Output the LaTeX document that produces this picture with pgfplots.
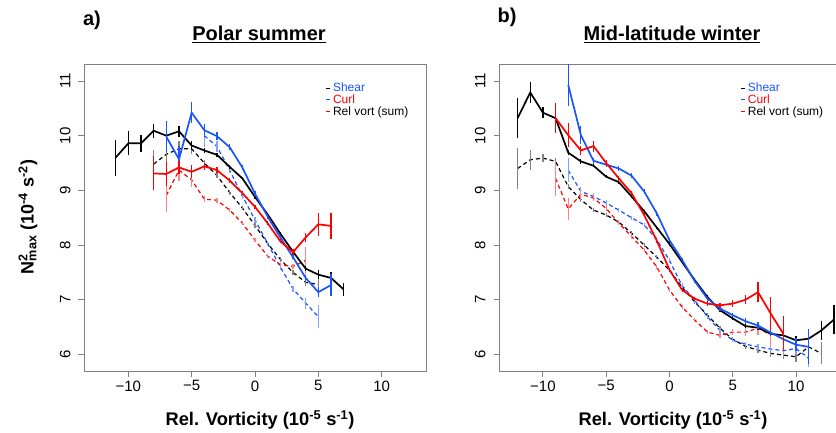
\documentclass[border=0pt]{standalone}
\usepackage{pgfplots}
\pgfplotsset{compat=1.18}
\usepackage{fontspec}
\setmainfont{Liberation Sans}

\definecolor{rblue}{RGB}{25,85,255}
\definecolor{rred}{RGB}{255,0,0}
\definecolor{lblue}{RGB}{130,160,255}
\definecolor{lred}{RGB}{255,130,130}
\definecolor{lgray}{RGB}{130,130,130}
\definecolor{boxgray}{RGB}{128,128,128}

\pgfplotsset{
  rbase/.style={
    scale only axis, width=342pt, height=307.5pt,
    ymin=5.69, ymax=11.31,
    xtick={-10,-5,0,5,10}, xticklabels={−10,−5,0,5,10},
    ytick={6,7,8,9,10,11}, yticklabels={6,7,8,9,10,11},
    tick pos=left, tick align=outside, major tick length=5.5pt,
    axis line style={boxgray, line width=0.9pt},
    tick style={boxgray, line width=0.9pt},
    ticklabel style={font=\fontsize{15}{15}\selectfont, black},
    yticklabel style={rotate=90, anchor=south},
    yticklabel shift=4.5pt,
    xticklabel style={anchor=north},
    legend image code/.code={\draw[#1] (0pt,0pt) -- (4.5pt,0pt);},
    legend style={draw=none, fill=none, anchor=north west,
      font=\fontsize{12}{13}\selectfont, row sep=-2.5pt,
      cells={anchor=west}, inner sep=0pt},
  },
  sol/.style={color=#1, line width=1.7pt, solid,
    error bars/y dir=both, error bars/y explicit, error bars/error mark=none,
    error bars/error bar style={color=#1, line width=1.2pt, solid}},
  dsh/.style 2 args={color=#1, line width=1.2pt, dash pattern=on 4pt off 3pt,
    error bars/y dir=both, error bars/y explicit, error bars/error mark=none,
    error bars/error bar style={color=#2, line width=1.2pt, solid}},
}

\begin{document}
\begin{tikzpicture}[x=1pt,y=1pt]
\path[use as bounding box] (0,0) rectangle (836,433);

% ---- a) Polar summer
\begin{axis}[rbase, at={(84pt,61.5pt)}, anchor=south west,
  xmin=-13.5, xmax=13.5,
  legend style={at={(rel axis cs:0.705,0.945)}}]
% dashed
\addplot[dsh={black}{lgray}] table[x=x,y=y,y error=e] {
x y e
-8 9.48 0.25
-7 9.66 0.20
-6 9.76 0.15
-5 9.76 0.10
-4 9.50 0.06
-3 9.27 0.05
-2 8.96 0.04
-1 8.68 0.04
0 8.36 0.04
1 8.03 0.04
2 7.74 0.04
3 7.50 0.05
4 7.32 0.06
5 7.28 0.10
};
\addplot[dsh={rblue}{lblue}] table[x=x,y=y,y error=e] {
x y e
-4 10.00 0.20
-3 9.80 0.10
-2 9.37 0.06
-1 8.90 0.05
0 8.46 0.05
1 8.03 0.05
2 7.60 0.05
3 7.20 0.06
4 6.94 0.10
5 6.69 0.21
};
\addplot[dsh={rred}{lred}] table[x=x,y=y,y error=e] {
x y e
-7 8.91 0.30
-6 9.37 0.20
-5 9.19 0.12
-4 8.84 0.06
-3 8.82 0.05
-2 8.64 0.04
-1 8.40 0.04
0 8.09 0.04
1 7.80 0.04
2 7.64 0.04
3 7.61 0.05
4 7.72 0.25
};
% solid
\addplot[sol=black] table[x=x,y=y,y error=e] {
x y e
-11 9.60 0.33
-10 9.86 0.22
-9 9.86 0.16
-8 10.09 0.13
-7 10.00 0.10
-6 10.08 0.10
-5 9.82 0.08
-4 9.73 0.05
-3 9.65 0.04
-2 9.43 0.03
-1 9.22 0.03
0 8.88 0.03
1 8.56 0.03
2 8.21 0.03
3 7.88 0.03
4 7.57 0.04
5 7.46 0.08
6 7.40 0.10
7 7.19 0.12
};
\addplot[sol=rblue] table[x=x,y=y,y error=e] {
x y e
-7 9.98 0.28
-6 9.57 0.25
-5 10.42 0.19
-4 10.10 0.12
-3 9.99 0.07
-2 9.79 0.05
-1 9.42 0.04
0 8.94 0.04
1 8.52 0.04
2 8.14 0.04
3 7.78 0.04
4 7.40 0.06
5 7.14 0.09
6 7.27 0.20
};
\addplot[sol=rred] table[x=x,y=y,y error=e] {
x y e
-8 9.31 0.31
-7 9.30 0.22
-6 9.42 0.12
-5 9.34 0.12
-4 9.44 0.06
-3 9.37 0.05
-2 9.18 0.04
-1 8.95 0.04
0 8.70 0.04
1 8.40 0.04
2 8.07 0.04
3 7.87 0.05
4 8.14 0.08
5 8.38 0.21
6 8.35 0.23
};
\addlegendimage{rblue, line width=1pt}
\addlegendentry{\textcolor{rblue}{Shear}}
\addlegendimage{rred, line width=1pt}
\addlegendentry{\textcolor{rred}{Curl}}
\addlegendimage{black, line width=1pt}
\addlegendentry{Rel vort (sum)}
\end{axis}

% ---- b) Mid-latitude winter
\begin{axis}[rbase, at={(499pt,61.5pt)}, anchor=south west,
  width=337pt, xmin=-13.47, xmax=13.16,
  legend style={at={(rel axis cs:0.715,0.945)}}]
% dashed
\addplot[dsh={black}{lgray}] table[x=x,y=y,y error=e] {
x y e
-12 9.40 0.38
-11 9.56 0.18
-10 9.59 0.08
-9 9.53 0.06
-8 9.07 0.05
-7 8.83 0.05
-6 8.64 0.04
-5 8.55 0.04
-4 8.42 0.04
-3 8.22 0.04
-2 8.00 0.04
-1 7.78 0.04
0 7.54 0.04
1 7.23 0.04
2 6.96 0.04
3 6.72 0.04
4 6.48 0.04
5 6.28 0.04
6 6.15 0.05
7 6.08 0.06
8 6.02 0.07
9 5.99 0.08
10 5.96 0.10
11 6.14 0.20
12 6.02 0.20
};
\addplot[dsh={rblue}{lblue}] table[x=x,y=y,y error=e] {
x y e
-8 9.37 0.22
-7 8.98 0.08
-6 8.89 0.06
-5 8.77 0.05
-4 8.64 0.04
-3 8.50 0.04
-2 8.37 0.04
-1 8.10 0.04
0 7.72 0.04
1 7.26 0.04
2 6.99 0.04
3 6.69 0.04
4 6.44 0.04
5 6.26 0.04
6 6.19 0.04
7 6.14 0.05
8 6.10 0.06
9 6.07 0.07
10 6.11 0.10
11 5.93 0.15
};
\addplot[dsh={rred}{lred}] table[x=x,y=y,y error=e] {
x y e
-9 9.22 0.32
-8 8.66 0.20
-7 8.93 0.08
-6 8.86 0.06
-5 8.67 0.05
-4 8.40 0.04
-3 8.16 0.04
-2 7.91 0.04
-1 7.60 0.04
0 7.18 0.04
1 6.87 0.04
2 6.63 0.04
3 6.41 0.04
4 6.35 0.05
5 6.41 0.06
6 6.41 0.07
7 6.48 0.12
8 6.36 0.20
};
% solid
\addplot[sol=black] table[x=x,y=y,y error=e] {
x y e
-12 10.32 0.37
-11 10.79 0.19
-10 10.42 0.10
-9 10.32 0.06
-8 9.69 0.05
-7 9.53 0.04
-6 9.45 0.03
-5 9.25 0.03
-4 9.15 0.03
-3 8.89 0.03
-2 8.62 0.03
-1 8.32 0.03
0 8.02 0.03
1 7.69 0.03
2 7.36 0.03
3 7.05 0.03
4 6.81 0.03
5 6.66 0.03
6 6.52 0.03
7 6.49 0.04
8 6.38 0.05
9 6.35 0.06
10 6.26 0.08
11 6.29 0.12
12 6.44 0.18
13 6.64 0.27
};
\addplot[sol=rblue] table[x=x,y=y,y error=e] {
x y e
-8 10.93 0.38
-7 10.01 0.17
-6 9.54 0.06
-5 9.47 0.05
-4 9.40 0.04
-3 9.27 0.04
-2 8.98 0.04
-1 8.58 0.04
0 8.09 0.04
1 7.73 0.04
2 7.34 0.04
3 7.02 0.04
4 6.84 0.04
5 6.72 0.04
6 6.61 0.05
7 6.53 0.06
8 6.40 0.07
9 6.28 0.10
10 6.18 0.12
11 6.14 0.32
};
\addplot[sol=rred] table[x=x,y=y,y error=e] {
x y e
-9 10.32 0.27
-8 10.01 0.22
-7 9.73 0.08
-6 9.81 0.10
-5 9.50 0.06
-4 9.22 0.04
-3 8.95 0.04
-2 8.55 0.04
-1 8.08 0.04
0 7.55 0.04
1 7.18 0.04
2 7.02 0.04
3 6.93 0.04
4 6.90 0.05
5 6.93 0.06
6 7.00 0.08
7 7.14 0.18
8 6.75 0.30
9 6.38 0.32
};
\addlegendimage{rblue, line width=1pt}
\addlegendentry{\textcolor{rblue}{Shear}}
\addlegendimage{rred, line width=1pt}
\addlegendentry{\textcolor{rred}{Curl}}
\addlegendimage{black, line width=1pt}
\addlegendentry{Rel vort (sum)}
\end{axis}

% ---- titles and labels
\node[font=\fontsize{20}{20}\selectfont\bfseries] at (92,413) {a)};
\node[font=\fontsize{20}{20}\selectfont\bfseries] at (507,416) {b)};
\node[font=\fontsize{20}{20}\selectfont\bfseries] at (259,399) {\underline{Polar summer}};
\node[font=\fontsize{20}{20}\selectfont\bfseries] at (672,399) {\underline{Mid-latitude winter}};
\node[font=\fontsize{18.3}{18.3}\selectfont\bfseries] at (260,13) {Rel. Vorticity (10\textsuperscript{-5} s\textsuperscript{-1})};
\node[font=\fontsize{18.3}{18.3}\selectfont\bfseries] at (673,13) {Rel. Vorticity (10\textsuperscript{-5} s\textsuperscript{-1})};
\node[font=\fontsize{18}{18}\selectfont\bfseries, rotate=90] at (28,216)
  {N\rlap{\textsuperscript{2}}\textsubscript{max} (10\textsuperscript{-4} s\textsuperscript{-2})};
\end{tikzpicture}
\end{document}
